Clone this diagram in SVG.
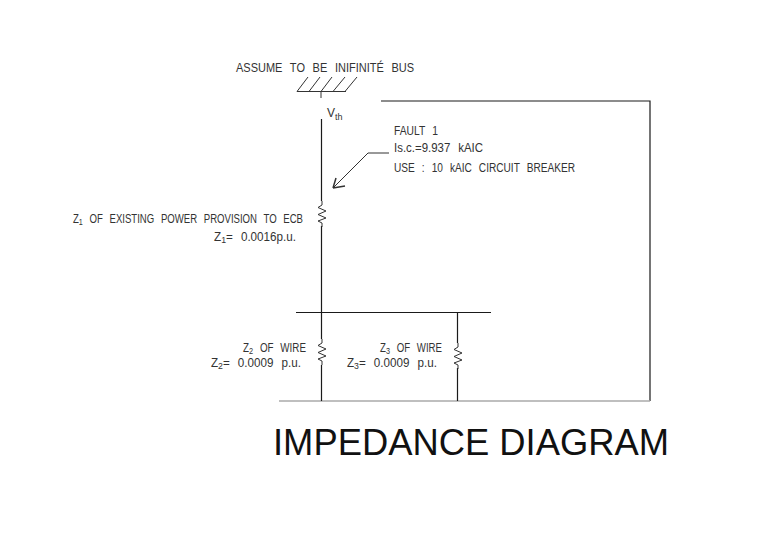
<svg xmlns="http://www.w3.org/2000/svg" width="768" height="543" viewBox="0 0 768 543">
<style>
.w{fill:none;stroke:#1a1a1a;stroke-width:1.200}
.g{fill:none;stroke:#333;stroke-width:1}
.t{font-family:"Liberation Sans",Arial,sans-serif;font-size:12px;fill:#333;word-spacing:5px}
.s{font-size:9px}
.title{font-family:"Liberation Sans",Arial,sans-serif;font-size:36.500px;fill:#111}
</style>
<defs><path id="res" d="M0 0L0 4L-4 6.500L4 10L-4 13.500L4 17L-4 20L0 22L0 26" class="g"/></defs>
<rect width="768" height="543" fill="#fff"/>
<g id="connectors">
<path class="w" d="M381 101H650V401"/>
<path d="M279 401H650" fill="none" stroke="#aaa" stroke-width="1.500"/>
<path class="g" d="M297 91.500H346M297 91.500L308 77M309 91.500L320 77M321 91.500L332 77M333 91.500L345 77M345 91.500L357 77M321 91.500V98"/>
<path class="w" d="M321.500 119V201M321.500 226V339M321.500 365V401M457.500 312V343M457.500 368V401M296 312.500H491"/>
<path class="g" d="M389 153H368L333 188" stroke-width="1.200"/>
<path d="M333 188L336 178M333 188L345 186" fill="none" stroke="#333" stroke-width="1.500"/>
</g>
<g id="bus"><text class="t" x="236" y="72" textLength="178" lengthAdjust="spacingAndGlyphs">ASSUME TO BE INIFINITÉ BUS</text></g>
<g id="vth"><text class="t" x="327" y="117">V<tspan class="s" dy="3">th</tspan></text></g>
<g id="fault"><text class="t" x="394" y="135" textLength="44" lengthAdjust="spacingAndGlyphs">FAULT 1</text><text class="t" x="394" y="152" textLength="89" lengthAdjust="spacingAndGlyphs">Is.c.=9.937 kAIC</text><text class="t" x="394" y="172" textLength="181" lengthAdjust="spacingAndGlyphs">USE : 10 kAIC CIRCUIT BREAKER</text></g>
<g id="z1"><use href="#res" x="322" y="201"/><text class="t" x="73" y="223" textLength="230" lengthAdjust="spacingAndGlyphs">Z<tspan class="s" dy="2">1</tspan><tspan dy="-2"> OF EXISTING POWER PROVISION TO ECB</tspan></text><text class="t" x="214" y="241" textLength="82" lengthAdjust="spacingAndGlyphs">Z<tspan class="s" dy="2">1</tspan><tspan dy="-2">= 0.0016p.u.</tspan></text></g>
<g id="z2"><use href="#res" x="322" y="339"/><text class="t" x="243" y="352" textLength="63" lengthAdjust="spacingAndGlyphs">Z<tspan class="s" dy="2">2</tspan><tspan dy="-2"> OF WIRE</tspan></text><text class="t" x="211" y="367" textLength="90" lengthAdjust="spacingAndGlyphs">Z<tspan class="s" dy="2">2</tspan><tspan dy="-2">= 0.0009 p.u.</tspan></text></g>
<g id="z3"><use href="#res" x="458" y="343"/><text class="t" x="380" y="352" textLength="62" lengthAdjust="spacingAndGlyphs">Z<tspan class="s" dy="2">3</tspan><tspan dy="-2"> OF WIRE</tspan></text><text class="t" x="347" y="367" textLength="90" lengthAdjust="spacingAndGlyphs">Z<tspan class="s" dy="2">3</tspan><tspan dy="-2">= 0.0009 p.u.</tspan></text></g>
<g id="title"><text class="title" x="273" y="455" textLength="396" lengthAdjust="spacingAndGlyphs">IMPEDANCE DIAGRAM</text></g>
</svg>
